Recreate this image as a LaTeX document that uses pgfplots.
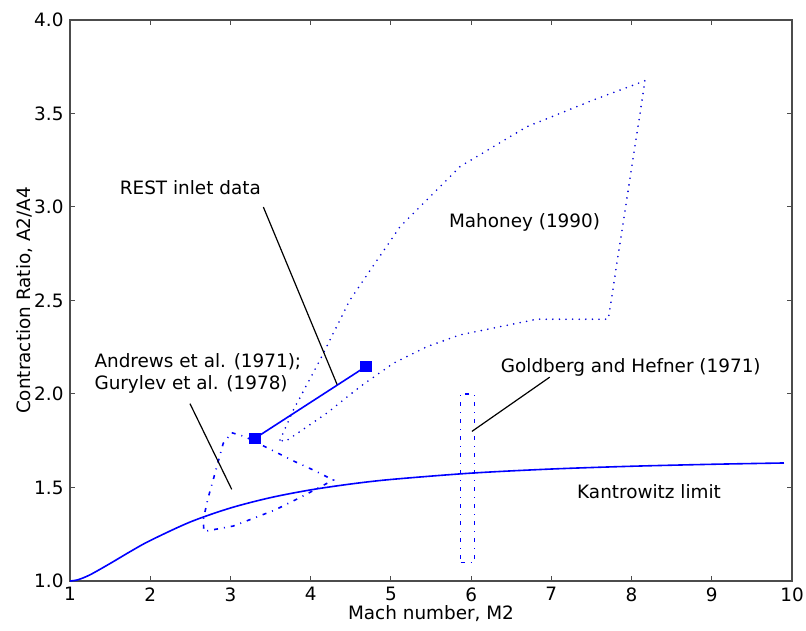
\documentclass[border=0pt]{standalone}
\usepackage{fontspec}
\setmainfont{DejaVu Sans}
\usepackage{pgfplots}
\pgfplotsset{compat=1.18}
\begin{document}
\fontsize{9.2}{11}\selectfont
\begin{tikzpicture}
\useasboundingbox (-35pt,-24.5pt) rectangle (368pt,290.5pt);
\begin{axis}[
 at={(0,0)}, anchor=south west,
 scale only axis, width=361pt, height=280.5pt,
 xmin=1, xmax=10, ymin=1, ymax=4,
 xtick={1,2,3,4,5,6,7,8,9,10}, ytick={1,1.5,2,2.5,3,3.5,4},
 yticklabel style={/pgf/number format/.cd, fixed, fixed zerofill, precision=1},
 /pgf/number format/assume math mode=true,
 tick align=inside, major tick length=2.5pt,
 axis line style={draw=black!70, line width=1pt},
 every tick/.style={black!70, line width=0.5pt},
 xlabel={Mach number, M2}, ylabel={Contraction Ratio, A2/A4},
 xlabel style={at={(axis description cs:0.5,-0.058)}, anchor=center},
 ylabel style={at={(axis description cs:-0.063,0.5)}, anchor=center},
 clip=false,
]
% Kantrowitz limit
\addplot[blue, line width=0.8pt, smooth] coordinates {
 (1.0,1.0) (1.1,1.0068) (1.25,1.0332) (1.5,1.0936) (1.75,1.1571) (2,1.2164)
 (2.5,1.3158) (3,1.3904) (3.5,1.4459) (4,1.4873) (4.5,1.5187) (5,1.5429)
 (6,1.5768) (7,1.5988) (8,1.6136) (9,1.6241) (9.9,1.6311)};
% Mahoney (1990)
\addplot[blue!85!black, line width=0.9pt, line cap=round, dash pattern=on 0pt off 3.3pt] coordinates {
 (3.618,1.754) (3.784,1.914) (4.116,2.182) (4.490,2.503) (5.114,2.895)
 (5.862,3.216) (6.693,3.429) (7.523,3.572) (8.168,3.675) (7.71,2.40)
 (6.82,2.40) (5.86,2.316) (5.45,2.253) (5.03,2.164) (4.615,2.039)
 (4.20,1.897) (3.68,1.745) (3.618,1.754)};
% Andrews / Gurylev
\addplot[blue, line width=0.8pt, dash pattern=on 2pt off 3pt on 0.5pt off 3pt] coordinates {
 (3.016,1.793) (3.18,1.772) (3.53,1.697) (3.78,1.643) (4.03,1.594) (4.282,1.540)
 (3.93,1.46) (3.805,1.433) (3.556,1.380) (3.285,1.335) (3.035,1.294) (2.67,1.265)
 (2.66,1.326) (2.72,1.442) (2.79,1.549) (2.91,1.736) (3.016,1.793)};
% Goldberg and Hefner
\addplot[blue, line width=0.8pt, dash pattern=on 2pt off 3pt on 0.5pt off 3pt] coordinates {
 (5.87,1.10) (6.04,1.10) (6.04,2.00) (5.87,2.00) (5.87,1.10)};
% REST inlet data
\addplot[blue, line width=0.8pt, mark=square*, mark size=2.5pt, mark options={solid, fill=blue}] coordinates {
 (3.306,1.763) (4.686,2.146)};
% annotation lines
\addplot[black, line width=0.6pt] coordinates {(3.41,3.00) (4.33,2.05)};
\addplot[black, line width=0.6pt] coordinates {(2.496,1.948) (3.016,1.49)};
\addplot[black, line width=0.6pt] coordinates {(6.01,1.80) (6.98,2.09)};
% labels
\node at (axis cs:2.50,3.104) {REST inlet data};
\node at (axis cs:6.666,2.92) {Mahoney (1990)};
\node at (axis cs:7.99,2.144) {Goldberg and Hefner (1971)};
\node[anchor=west, align=left] at (axis cs:1.224,2.112) {Andrews et al. (1971);\\Gurylev et al. (1978)};
\node at (axis cs:8.218,1.476) {Kantrowitz limit};
\end{axis}
\end{tikzpicture}
\end{document}
